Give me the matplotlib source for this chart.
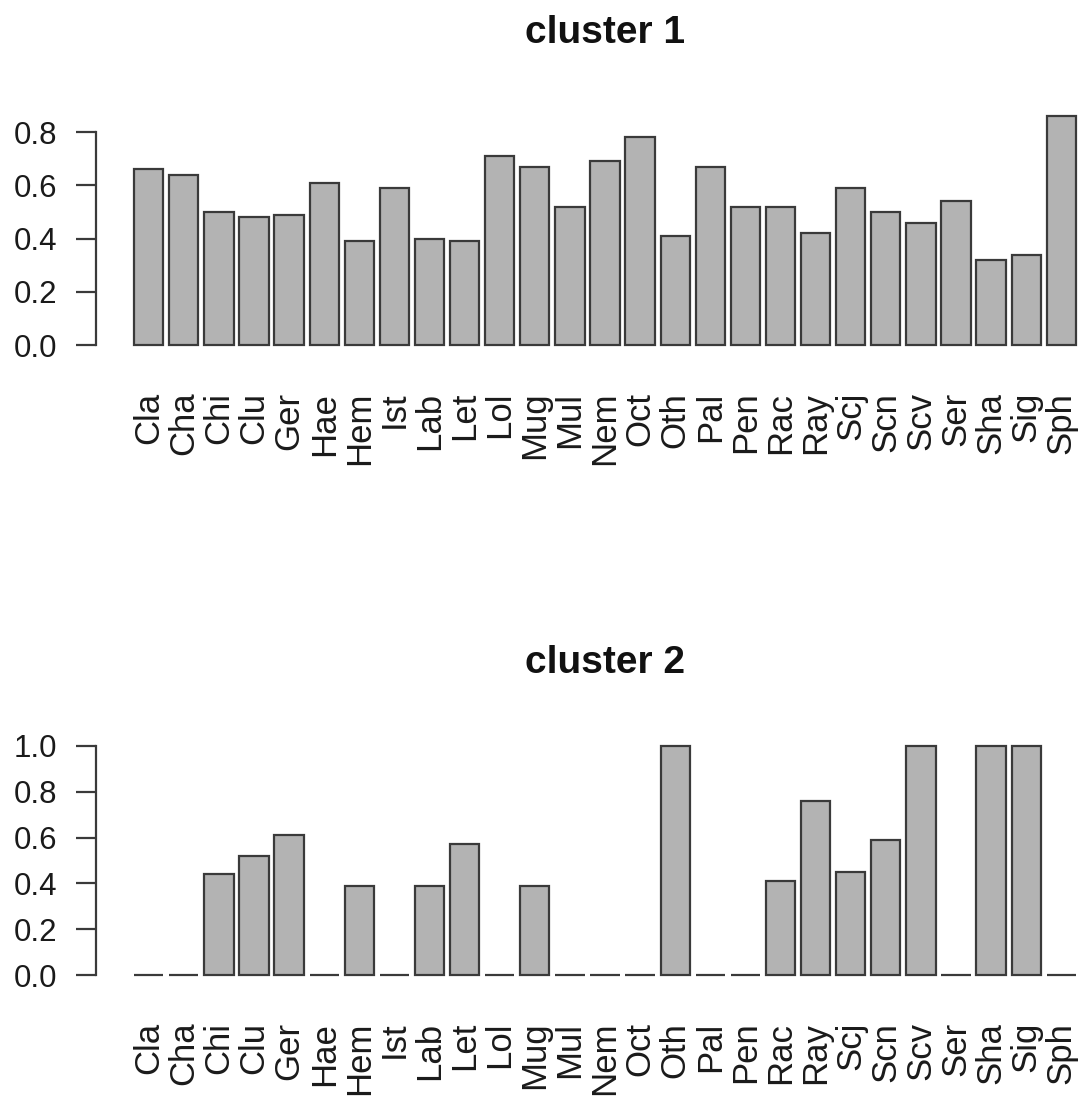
import numpy as np
import matplotlib
matplotlib.use("Agg")
import matplotlib.pyplot as plt

plt.rcParams['font.family'] = ['Liberation Sans', 'DejaVu Sans']

species = ["Cla", "Cha", "Chi", "Clu", "Ger", "Hae", "Hem", "Ist", "Lab", "Let",
           "Lol", "Mug", "Mul", "Nem", "Oct", "Oth", "Pal", "Pen", "Rac", "Ray",
           "Scj", "Scn", "Scv", "Ser", "Sha", "Sig", "Sph"]
cluster1 = [0.66, 0.64, 0.50, 0.48, 0.49, 0.61, 0.39, 0.59, 0.40, 0.39,
            0.71, 0.67, 0.52, 0.69, 0.78, 0.41, 0.67, 0.52, 0.52, 0.42,
            0.59, 0.50, 0.46, 0.54, 0.32, 0.34, 0.86]
cluster2 = [0.0, 0.0, 0.44, 0.52, 0.61, 0.0, 0.39, 0.0, 0.39, 0.57,
            0.0, 0.39, 0.0, 0.0, 0.0, 1.0, 0.0, 0.0, 0.41, 0.76,
            0.45, 0.59, 1.0, 0.0, 1.0, 1.0, 0.0]
titles = ["cluster 1", "cluster 2"]
yticks = [[0.0, 0.2, 0.4, 0.6, 0.8], [0.0, 0.2, 0.4, 0.6, 0.8, 1.0]]

W, H = 1083, 1100
fig = plt.figure(figsize=(W / 100, H / 100), dpi=100)

# barplot-like layout: width 1, space 0.2
n = len(species)
x = 0.7 + 1.2 * np.arange(n)
xl, xr = 0.2, 0.2 + 1.2 * (n - 1) + 1
xpad = 0.04 * (xr - xl)

# axes boxes in pixels: (left, top, bottom), right side runs off the image
boxes = [(96.4, 106.9, 354.2), (96.4, 736.8, 984.2)]
right_px = 1113.6

for vals, title, ticks, (lp, tp, bp) in zip([cluster1, cluster2], titles, yticks, boxes):
    ax = fig.add_axes([lp / W, 1 - bp / H, (right_px - lp) / W, (bp - tp) / H])
    ax.bar(x, vals, width=1.0, color="#b3b3b3", edgecolor="#3a3a3a", linewidth=1.6)
    ymax = max(vals)
    ax.set_xlim(xl - xpad, xr + xpad)
    ax.set_ylim(-0.04 * ymax, ymax * 1.04)
    for s in ["top", "right", "bottom"]:
        ax.spines[s].set_visible(False)
    ax.spines["left"].set_bounds(ticks[0], ticks[-1])
    ax.spines["left"].set_color("#3a3a3a")
    ax.spines["left"].set_linewidth(1.6)
    ax.set_yticks(ticks)
    ax.set_yticklabels(["%.1f" % t for t in ticks])
    ax.tick_params(axis="y", length=14.4, width=1.6, color="#3a3a3a",
                   pad=14, labelsize=22.5, labelcolor="#1a1a1a")
    ax.set_xticks(x)
    ax.set_xticklabels(species, rotation=90, fontsize=25, color="#1a1a1a")
    ax.tick_params(axis="x", length=0, pad=27)
    ax.set_title(title, fontsize=28, fontweight="bold", pad=46, color="#111111")

fig.savefig("out.png", dpi=100)
